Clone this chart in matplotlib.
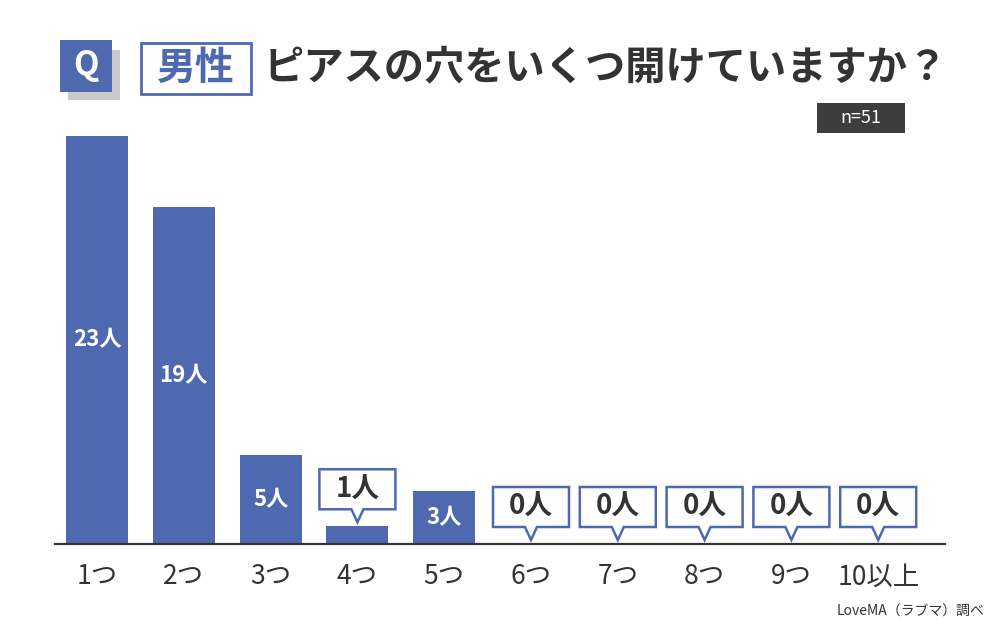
import matplotlib
matplotlib.use("Agg")
import matplotlib.pyplot as plt
from matplotlib.patches import Rectangle, Polygon

plt.rcParams['font.family'] = ['Noto Sans CJK JP', 'DejaVu Sans']

# data
categories = ["1つ", "2つ", "3つ", "4つ", "5つ", "6つ", "7つ", "8つ", "9つ", "10以上"]
counts = [23, 19, 5, 1, 3, 0, 0, 0, 0, 0]
unit = "人"
title = "ピアスの穴をいくつ開けていますか？"
group = "男性"
n_label = "n=51"
source = "LoveMA（ラブマ）調べ"

BLUE = "#4f69b0"
DARK = "#333333"
W, H = 1000, 630

fig = plt.figure(figsize=(10, 6.3), dpi=100)
fig.patch.set_facecolor("white")


def frect(x0, y0, x1, y1, **kw):
    # rectangle in figure pixels, origin top-left
    r = Rectangle((x0 / W, 1 - y1 / H), (x1 - x0) / W, (y1 - y0) / H,
                  transform=fig.transFigure, **kw)
    fig.patches.append(r)


# header
frect(68, 50, 120, 100, facecolor="#c9c9c9", edgecolor="none")
frect(60, 40, 112, 92, facecolor=BLUE, edgecolor="none")
fig.text(86 / W, 1 - 66 / H, "Q", color="white", fontsize=24, fontweight="bold",
         ha="center", va="center")
frect(141, 43, 251, 94, facecolor="white", edgecolor=BLUE, linewidth=2)
fig.text(196 / W, 1 - 68 / H, group, color=BLUE, fontsize=28, fontweight="bold",
         ha="center", va="center")
fig.text(264 / W, 1 - 68 / H, title, color=DARK, fontsize=29, fontweight="bold",
         ha="left", va="center")
frect(817, 103, 905, 133, facecolor="#3d3d3d", edgecolor="none")
fig.text(861 / W, 1 - 118 / H, n_label, color="white", fontsize=13,
         ha="center", va="center")
fig.text(985 / W, 1 - 612 / H, source, color=DARK, fontsize=10,
         ha="right", va="center")

# plot area
ax_l, ax_r, ax_b, ax_t = 55, 945, 544, 100
ax = fig.add_axes([ax_l / W, 1 - ax_b / H, (ax_r - ax_l) / W, (ax_b - ax_t) / H])
step = 86.8
x0 = 97
ax.set_xlim((ax_l - x0) / step, (ax_r - x0) / step)
ypx = 408 / 23  # pixels per person
ax.set_ylim(0, (ax_b - ax_t) / ypx)
for s in ["top", "right", "left"]:
    ax.spines[s].set_visible(False)
ax.spines["bottom"].set_color(DARK)
ax.spines["bottom"].set_linewidth(1.6)
ax.set_yticks([])
xs = list(range(len(categories)))
ax.bar(xs, counts, width=62 / step, color=BLUE)
ax.set_xticks(xs)
ax.set_xticklabels(categories, fontsize=19, color=DARK)
ax.tick_params(axis="x", length=0, pad=14)

px_x = 1 / step
px_y = 1 / ypx
for x, v in zip(xs, counts):
    label = f"{v}{unit}"
    if v >= 3:
        ax.text(x, v / 2, label, color="white", fontsize=16, fontweight="bold",
                ha="center", va="center")
    else:
        tip = v + 4 * px_y
        bb = tip + 13 * px_y
        bt = bb + 40 * px_y
        hw = 38 * px_x
        pw = 6 * px_x
        pts = [(x - hw, bb), (x - pw, bb), (x, tip), (x + pw, bb), (x + hw, bb),
               (x + hw, bt), (x - hw, bt)]
        ax.add_patch(Polygon(pts, closed=True, facecolor="white", edgecolor=BLUE,
                             linewidth=1.8, clip_on=False, zorder=3))
        ax.text(x, (bb + bt) / 2, label, color=DARK, fontsize=20, fontweight="bold",
                ha="center", va="center", zorder=4)

fig.savefig("out.png", dpi=100, facecolor="white")
